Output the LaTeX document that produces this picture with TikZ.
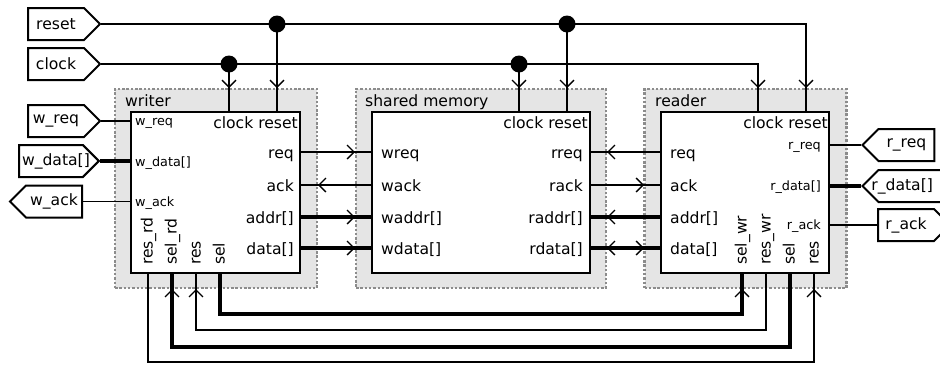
\documentclass[tikz,border=0pt]{standalone}
\usepackage{fontspec}
\setmainfont{DejaVu Sans}
\usetikzlibrary{arrows.meta, shapes.symbols, decorations.markings}
\newcommand\lblfont{\fontsize{15.6}{18}\selectfont}
\newcommand\pinfont{\fontsize{12.8}{15}\selectfont}
\tikzset{
  barb/.tip={Straight Barb[length=7pt,width=14pt,line width=1.3pt]},
  blk outer/.style={
    rectangle, draw=black!45, fill=black!10,
    line width=2.5pt, dash pattern=on 2.5pt off 1.8pt, inner sep=0pt
  },
  blk/.style={
    rectangle, draw=black, fill=white, line width=2pt, inner sep=0pt
  },
  sig/.style={line width=1.3pt, draw=black},
  bus/.style={line width=4pt, draw=black},
  arr at/.style={
    postaction={decoration={markings,
      mark=at position -#1 with {\arrow{barb}}}, decorate}
  },
  io/.style={
    signal, draw=black, fill=white, line width=2pt, font=\lblfont,
    minimum height=32pt, minimum width=72pt, inner xsep=3pt, inner ysep=0pt
  },
  port east/.style={io, signal to=east},
  port west/.style={io, signal to=west},
  dot/.style={circle, fill=black, minimum size=17pt, inner sep=0pt}
}

\begin{document}
\begin{tikzpicture}[x=1pt, y=-1pt,
  lbl/.style={font=\lblfont, inner sep=0pt},
  pin lbl/.style={font=\pinfont, inner sep=0pt},
  vlbl/.style={font=\lblfont, inner sep=0pt, rotate=90, anchor=base west},
]
\useasboundingbox (0,0) rectangle (940,365);

% ====== BLOCKS ======
\node[blk outer, minimum width=202pt, minimum height=199pt] (wro) at (216,188.5) {};
\node[blk outer, minimum width=250pt, minimum height=199pt] (smo) at (481,188.5) {};
\node[blk outer, minimum width=202pt, minimum height=199pt] (rdo) at (745.5,188.5) {};
\node[blk, minimum width=169pt, minimum height=161pt] (wr) at (215.5,192.5) {};
\node[blk, minimum width=218pt, minimum height=161pt] (sm) at (481,192.5) {};
\node[blk, minimum width=168pt, minimum height=161pt] (rd) at (745,192.5) {};

\node[lbl, anchor=base west] (wr-t) at (125,106) {writer};
\node[lbl, anchor=base west] (sm-t) at (365,106) {shared memory};
\node[lbl, anchor=base west] (rd-t) at (655,106) {reader};

\node[lbl, anchor=base east] (wr-cr) at (298,128) {clock reset};
\node[lbl, anchor=base east] (sm-cr) at (588,128) {clock reset};
\node[lbl, anchor=base east] (rd-cr) at (828,128) {clock reset};

% -- writer ports --
\coordinate (wr-clk) at ([xshift=-72pt]wr.north east);
\coordinate (wr-rst) at ([xshift=-24pt]wr.north east);
\coordinate (wr-req) at (wr.east |- 0,152);
\coordinate (wr-ack) at (wr.east |- 0,185);
\coordinate (wr-addr) at (wr.east |- 0,217);
\coordinate (wr-data) at (wr.east |- 0,248);
\coordinate (wr-resrd) at (148,0 |- wr.south);
\coordinate (wr-selrd) at (172,0 |- wr.south);
\coordinate (wr-res) at (196,0 |- wr.south);
\coordinate (wr-sel) at (220,0 |- wr.south);

\node[lbl, anchor=base east] (l-wr-req) at (294,158) {req};
\node[lbl, anchor=base east] (l-wr-ack) at (294,191) {ack};
\node[lbl, anchor=base east] (l-wr-addr) at (294,223) {addr[]};
\node[lbl, anchor=base east] (l-wr-data) at (294,254) {data[]};
\node[pin lbl, anchor=base west] (l-wreq) at (135,125.5) {w\_req};
\node[pin lbl, anchor=base west] (l-wdata) at (135,166.5) {w\_data[]};
\node[pin lbl, anchor=base west] (l-wack) at (135,206) {w\_ack};
\node[vlbl] (l-resrd) at (152.5,265) {res\_rd};
\node[vlbl] (l-selrd) at (176.5,265) {sel\_rd};
\node[vlbl] (l-wres) at (200.5,265) {res};
\node[vlbl] (l-wsel) at (224.5,265) {sel};

% -- shared memory ports --
\coordinate (sm-clk) at ([xshift=-72pt]sm.north east);
\coordinate (sm-rst) at ([xshift=-24pt]sm.north east);
\coordinate (sm-wreq) at (sm.west |- 0,152);
\coordinate (sm-wack) at (sm.west |- 0,185);
\coordinate (sm-waddr) at (sm.west |- 0,217);
\coordinate (sm-wdata) at (sm.west |- 0,248);
\coordinate (sm-rreq) at (sm.east |- 0,152);
\coordinate (sm-rack) at (sm.east |- 0,185);
\coordinate (sm-raddr) at (sm.east |- 0,217);
\coordinate (sm-rdata) at (sm.east |- 0,248);

\node[lbl, anchor=base west] (l-wreq2) at (381,158) {wreq};
\node[lbl, anchor=base west] (l-wack2) at (381,191) {wack};
\node[lbl, anchor=base west] (l-waddr) at (381,223) {waddr[]};
\node[lbl, anchor=base west] (l-wdata2) at (381,254) {wdata[]};
\node[lbl, anchor=base east] (l-rreq) at (583,158) {rreq};
\node[lbl, anchor=base east] (l-rack) at (583,191) {rack};
\node[lbl, anchor=base east] (l-raddr) at (583,223) {raddr[]};
\node[lbl, anchor=base east] (l-rdata) at (583,254) {rdata[]};

% -- reader ports --
\coordinate (rd-clk) at ([xshift=-72pt]rd.north east);
\coordinate (rd-rst) at ([xshift=-24pt]rd.north east);
\coordinate (rd-req) at (rd.west |- 0,152);
\coordinate (rd-ack) at (rd.west |- 0,185);
\coordinate (rd-addr) at (rd.west |- 0,217);
\coordinate (rd-data) at (rd.west |- 0,248);
\coordinate (rd-selwr) at (742,0 |- rd.south);
\coordinate (rd-reswr) at (766,0 |- rd.south);
\coordinate (rd-sel) at (790,0 |- rd.south);
\coordinate (rd-res) at (814,0 |- rd.south);

\node[lbl, anchor=base west] (l-rd-req) at (670,158) {req};
\node[lbl, anchor=base west] (l-rd-ack) at (670,191) {ack};
\node[lbl, anchor=base west] (l-rd-addr) at (670,223) {addr[]};
\node[lbl, anchor=base west] (l-rd-data) at (670,254) {data[]};
\node[pin lbl, anchor=base east] (l-rreq2) at (821,149.5) {r\_req};
\node[pin lbl, anchor=base east] (l-rdata2) at (821,190.5) {r\_data[]};
\node[pin lbl, anchor=base east] (l-rack2) at (821,229.5) {r\_ack};
\node[vlbl] (l-selwr) at (746.5,265) {sel\_wr};
\node[vlbl] (l-reswr) at (770.5,265) {res\_wr};
\node[vlbl] (l-rsel) at (794.5,265) {sel};
\node[vlbl] (l-rres) at (818.5,265) {res};

% ====== EXTERNAL PINS ======
\node[port east, anchor=west] (reset) at (27,24) {reset};
\node[port east, anchor=west] (clock) at (27,64) {clock};
\node[port east, anchor=west] (wreq) at (27,121) {w\_req};
\node[port east, anchor=west] (wdata) at (18,161) {w\_data[]\hspace*{-10pt}};
\node[port west, anchor=east] (wack) at (83,201.5) {w\_ack};
\node[port west, anchor=west] (rreq) at (861,145) {r\_req};
\node[port west, anchor=west] (rdata) at (861,186) {\hspace*{-10pt}r\_data[]\hspace*{8pt}};
\node[port east, anchor=west] (rack) at (877,225) {r\_ack};

\draw[sig] (wreq.east) -- (wr.west |- wreq.east);
\draw[bus] (wdata.east) -- (wr.west |- wdata.east);
\draw[sig] (wack.east) -- (wr.west |- wack.east);
\draw[sig] (rreq.west) -- (rd.east |- rreq.west);
\draw[bus] (rdata.west) -- (rd.east |- rdata.west);
\draw[sig] (rack.west) -- (rd.east |- rack.west);

% ====== CLOCK & RESET ======
\draw[sig, arr at=23pt] (reset.east) -| (rd-rst);
\draw[sig, arr at=23pt] (clock.east) -| (rd-clk);
\node[dot] (rs-w) at (wr-rst |- reset.east) {};
\node[dot] (rs-s) at (sm-rst |- reset.east) {};
\node[dot] (ck-w) at (wr-clk |- clock.east) {};
\node[dot] (ck-s) at (sm-clk |- clock.east) {};
\draw[sig, arr at=23pt] (rs-w.center) -- (wr-rst);
\draw[sig, arr at=23pt] (rs-s.center) -- (sm-rst);
\draw[sig, arr at=23pt] (ck-w.center) -- (wr-clk);
\draw[sig, arr at=23pt] (ck-s.center) -- (sm-clk);

% ====== WRITER <-> SHARED MEMORY ======
\draw[sig, arr at=16pt] (wr-req) -- (sm-wreq);
\draw[sig, arr at=17pt] (sm-wack) -- (wr-ack);
\draw[bus, arr at=16pt] (wr-addr) -- (sm-waddr);
\draw[bus, arr at=16pt] (wr-data) -- (sm-wdata);

% ====== READER <-> SHARED MEMORY ======
\draw[sig, arr at=16pt] (rd-req) -- (sm-rreq);
\draw[sig, arr at=16pt] (sm-rack) -- (rd-ack);
\draw[bus, arr at=16pt] (rd-addr) -- (sm-raddr);
\draw[bus, arr at=16pt] (sm-rdata) -- (rd-data);
\draw[bus, arr at=16pt] (rd-data) -- (sm-rdata);

% ====== WRITER <-> READER ======
\draw[bus, arr at=15pt] (wr-sel) -- ++(0,40) -| (rd-selwr);
\draw[sig, arr at=15pt] (rd-reswr) -- ++(0,56) -| (wr-res);
\draw[bus, arr at=15pt] (rd-sel) -- ++(0,73) -| (wr-selrd);
\draw[sig, arr at=15pt] (wr-resrd) -- ++(0,88) -| (rd-res);

\end{tikzpicture}
\end{document}
